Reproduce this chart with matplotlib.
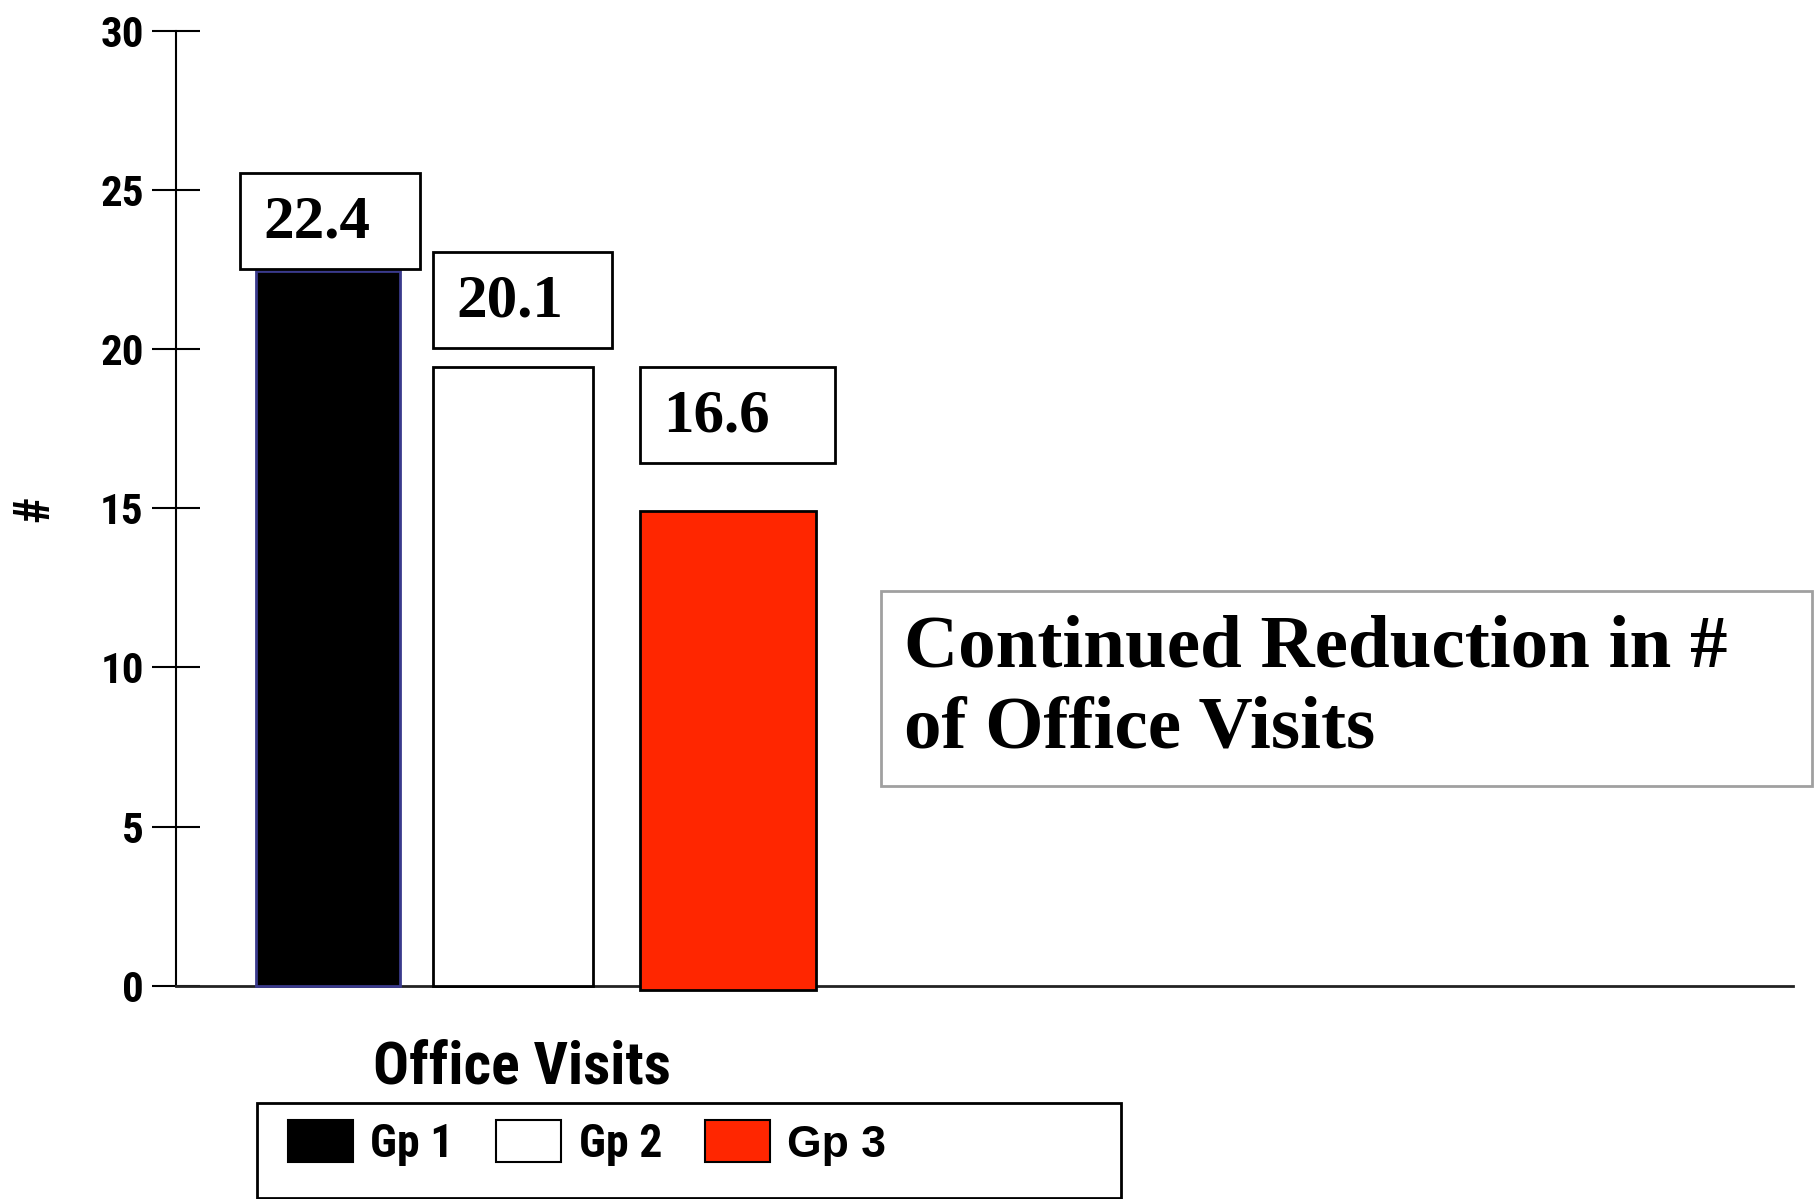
import numpy as np
import matplotlib
matplotlib.use("Agg")
import matplotlib.pyplot as plt
from matplotlib import font_manager
from matplotlib.patches import Rectangle, Patch

# values
groups = ["Gp 1", "Gp 2", "Gp 3"]
bar_heights = [22.45, 19.45, 14.93]
value_labels = ["22.4", "20.1", "16.6"]
label_values = [22.4, 20.1, 16.6]
yticks = [0, 5, 10, 15, 20, 25, 30]
category = "Office Visits"
note = "Continued Reduction in #\nof Office Visits"

# layout (x units: 1 unit ~ 200 px)
bar_left = [0.40, 1.283, 2.32]
bar_width = [0.72, 0.80, 0.88]
bar_bottom = [0, 0, -0.15]
bar_colors = ["black", "white", "#ff2600"]
bar_edges = ["#3a3a8c", "black", "black"]
box_left = [0.318, 1.283, 2.32]
box_width = [0.90, 0.895, 0.975]
box_shift = [0.12, -0.06, -0.18]

sans = ["Liberation Sans", "DejaVu Sans"]
serif = ["Liberation Serif", "DejaVu Serif"]

# the original uses a narrow bold sans; use one if the system has it
installed = {f.name for f in font_manager.fontManager.ttflist}
narrow = None
for name in ["Liberation Sans Narrow", "Arial Narrow", "Roboto Condensed", "Open Sans Condensed",
             "DejaVu Sans Condensed"]:
    if name in installed:
        narrow = name
        break
if narrow:
    nfam = [narrow, "DejaVu Sans"]
    tick_size, xlab_size, leg_size, ylab_size = 31, 43, 33, 36
else:
    nfam = sans
    tick_size, xlab_size, leg_size, ylab_size = 28, 37, 28, 32

fig = plt.figure(figsize=(18.2, 11.99), dpi=100)
ax = fig.add_axes([0.0969, 0.178, 0.8883, 0.7959])

for i in range(len(groups)):
    ax.bar(bar_left[i], bar_heights[i] - bar_bottom[i], width=bar_width[i], bottom=bar_bottom[i],
           align="edge", color=bar_colors[i], edgecolor=bar_edges[i], linewidth=2, zorder=3, clip_on=False)
    y0 = label_values[i] + box_shift[i]
    ax.add_patch(Rectangle((box_left[i], y0), box_width[i], 3.03,
                           facecolor="white", edgecolor="black", linewidth=2, zorder=4, clip_on=False))
    ax.text(box_left[i] + 0.115, y0 + 1.0, value_labels[i], ha="left", va="baseline",
            fontsize=44, fontweight="bold", family=serif, zorder=5)

ax.set_xlim(0, 8.085)
ax.set_ylim(0, 30)
ax.set_yticks(yticks)
ax.set_xticks([])
ax.tick_params(axis="y", direction="inout", length=35, width=1.5, pad=6, labelsize=tick_size)
for t in ax.get_yticklabels():
    t.set_fontfamily(nfam)
    t.set_fontweight("bold")
ax.spines["top"].set_visible(False)
ax.spines["right"].set_visible(False)
ax.spines["left"].set_linewidth(1.5)
ax.spines["bottom"].set_linewidth(2)
ax.spines["bottom"].set_color("#222222")

ax.set_ylabel("#", fontsize=ylab_size, fontweight="bold", family=nfam)
ax.yaxis.set_label_coords(-0.073, 0.5)
ax.set_xlabel(category, fontsize=xlab_size, fontweight="bold", family=nfam)
ax.xaxis.set_label_coords(0.2137, -0.057)

# annotation box
fig.patches.append(Rectangle((0.484, 0.3444), 0.5115, 0.1626, transform=fig.transFigure,
                             facecolor="white", edgecolor="#a0a0a0", linewidth=2))
fig.text(0.4967, 0.425, note, ha="left", va="center", fontsize=54, fontweight="bold",
         family=serif, linespacing=1.25)

# legend with a wider frame drawn separately
fig.patches.append(Rectangle((0.141, 0.001), 0.475, 0.0792, transform=fig.transFigure,
                             facecolor="white", edgecolor="black", linewidth=2))
handles = [Patch(facecolor=c, edgecolor="black", linewidth=1.5) for c in bar_colors]
leg = fig.legend(handles, groups, loc="center left", bbox_to_anchor=(0.158, 0.047), ncol=3,
                 frameon=False, borderpad=0, borderaxespad=0,
                 prop={"size": leg_size, "weight": "bold", "family": nfam},
                 handlelength=65 / (leg_size * 100 / 72), handleheight=47.6 / (leg_size * 100 / 72),
                 handletextpad=0.38, columnspacing=0.93)
leg.get_texts()[2].set_fontfamily(sans)
leg.get_texts()[2].set_fontsize(32)

fig.savefig("out.png", dpi=100)
